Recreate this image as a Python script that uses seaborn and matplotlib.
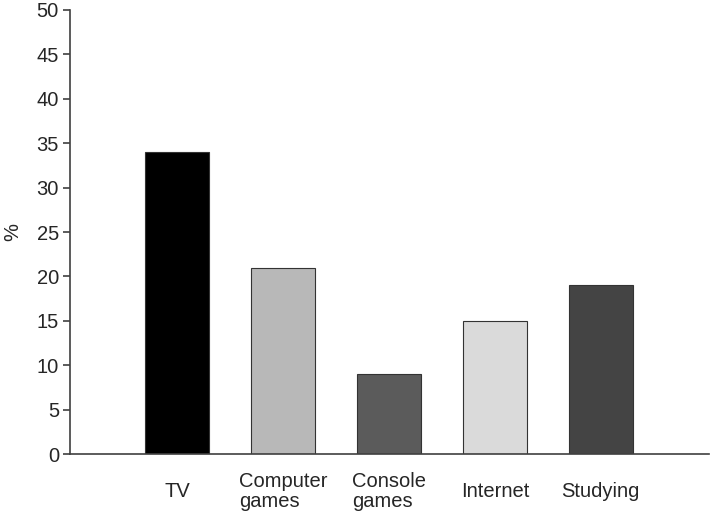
import matplotlib
matplotlib.use("Agg")
import matplotlib.pyplot as plt
import seaborn as sns
import pandas as pd

categories = ["TV", "Computer\ngames", "Console\ngames", "Internet", "Studying"]
values = [34, 21, 9, 15, 19]
colors = ["#000000", "#b8b8b8", "#5b5b5b", "#dadada", "#444444"]
y_ticks = [0, 5, 10, 15, 20, 25, 30, 35, 40, 45, 50]

sns.set_style("white")
plt.rcParams["font.family"] = ["Liberation Sans", "DejaVu Sans"]

df = pd.DataFrame({"cat": categories, "val": values})

fig = plt.figure(figsize=(7.11, 5.15), dpi=100)
ax = fig.add_axes([0.0985, 0.1184, 0.8985, 0.8622])
sns.barplot(data=df, x="cat", y="val", hue="cat", palette=colors, legend=False,
            width=0.6, edgecolor="#333333", linewidth=0.8, saturation=1, ax=ax)
ax.set_xlim(-1.01, 5.02)
ax.set_ylim(0, 50)
ax.set_yticks(y_ticks)
ax.set_xlabel("")
ax.set_ylabel("%", fontsize=14.5, labelpad=10)
for s in ["top", "right"]:
    ax.spines[s].set_visible(False)
for s in ["left", "bottom"]:
    ax.spines[s].set_color("#404040")
    ax.spines[s].set_linewidth(1.2)
ax.tick_params(axis="y", length=5, width=1.2, color="#404040", labelsize=14.5, pad=3, left=True)
ax.tick_params(axis="x", length=0, labelsize=14.5, pad=27)
for lbl in ax.get_xticklabels():
    lbl.set_multialignment("left")
    lbl.set_verticalalignment("center")
    lbl.set_linespacing(1.05)
fig.savefig("out.png", dpi=100)
